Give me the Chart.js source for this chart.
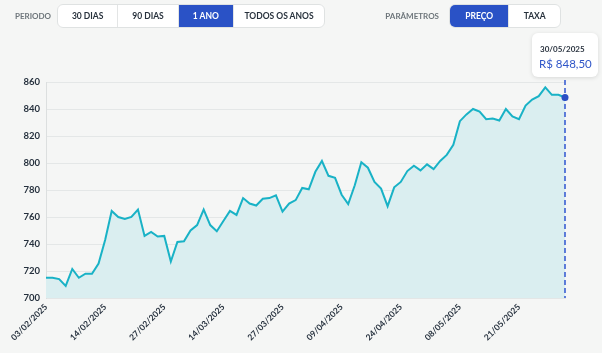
<!DOCTYPE html>
<html>
<head>
<meta charset="utf-8">
<script src="https://cdn.jsdelivr.net/npm/chart.js@4.4.1/dist/chart.umd.min.js"></script>
<style>
    html, body {
        margin: 0;
        padding: 0;
        background: #f5f6f5;
        width: 602px;
        height: 353px;
        overflow: hidden;
        font-family: "Lato", sans-serif;
    }
    #wrap {
        position: absolute;
        left: 0;
        top: 0;
        width: 602px;
        height: 353px;
    }
    .label {
        position: absolute;
        top: 11px;
        font-size: 8px;
        font-weight: 700;
        color: #6d757a;
    }
    .group {
        position: absolute;
        top: 4px;
        height: 22px;
        display: flex;
        background: #fff;
        border: 1px solid #dfe2e2;
        border-radius: 6px;
        overflow: hidden;
    }
    .group div {
        display: flex;
        align-items: center;
        justify-content: center;
        font-size: 8.5px;
        font-weight: 700;
        color: #27313c;
        border-right: 1px solid #e3e5e5;
    }
    .group div:last-child {
        border-right: none;
    }
    .group div.on {
        background: #2a52c6;
        color: #fff;
    }
    #tip {
        position: absolute;
        width: 66px;
        height: 44px;
        background: #fff;
        border-radius: 6px;
        box-shadow: 0 1px 4px rgba(0, 0, 0, 0.12);
    }
    #tip .d {
        position: absolute;
        left: 8px;
        top: 11px;
        font-size: 8px;
        font-weight: 700;
        color: #2b3440;
    }
    #tip .v {
        position: absolute;
        left: 7px;
        top: 24px;
        font-size: 11.5px;
        color: #2f55c8;
    }
</style>
</head>
<body>
<div id="wrap">
    <canvas id="price-chart" width="602" height="353"></canvas>
</div>
<div class="label" style="left:15px">PERIODO</div>
<div class="group" style="left:57px;width:266px">
    <div style="width:60px">30 DIAS</div>
    <div style="width:60px">90 DIAS</div>
    <div class="on" style="width:55px">1 ANO</div>
    <div style="width:91px">TODOS OS ANOS</div>
</div>
<div class="label" style="right:163px">PARÂMETROS</div>
<div class="group" style="left:449px;width:110px">
    <div class="on" style="width:59px">PREÇO</div>
    <div style="width:51px">TAXA</div>
</div>
<div id="tip">
    <div class="d">30/05/2025</div>
    <div class="v">R$ 848,50</div>
</div>
<script>
const dates = [
    "03/02/2025", "04/02/2025", "05/02/2025", "06/02/2025", "07/02/2025",
    "10/02/2025", "11/02/2025", "12/02/2025", "13/02/2025", "14/02/2025",
    "17/02/2025", "18/02/2025", "19/02/2025", "20/02/2025", "21/02/2025",
    "24/02/2025", "25/02/2025", "26/02/2025", "27/02/2025", "28/02/2025",
    "05/03/2025", "06/03/2025", "07/03/2025", "10/03/2025", "11/03/2025",
    "12/03/2025", "13/03/2025", "14/03/2025", "17/03/2025", "18/03/2025",
    "19/03/2025", "20/03/2025", "21/03/2025", "24/03/2025", "25/03/2025",
    "26/03/2025", "27/03/2025", "28/03/2025", "31/03/2025", "01/04/2025",
    "02/04/2025", "03/04/2025", "04/04/2025", "07/04/2025", "08/04/2025",
    "09/04/2025", "10/04/2025", "11/04/2025", "14/04/2025", "15/04/2025",
    "16/04/2025", "17/04/2025", "22/04/2025", "23/04/2025", "24/04/2025",
    "25/04/2025", "28/04/2025", "29/04/2025", "30/04/2025", "02/05/2025",
    "05/05/2025", "06/05/2025", "07/05/2025", "08/05/2025", "09/05/2025",
    "12/05/2025", "13/05/2025", "14/05/2025", "15/05/2025", "16/05/2025",
    "19/05/2025", "20/05/2025", "21/05/2025", "22/05/2025", "23/05/2025",
    "26/05/2025", "27/05/2025", "28/05/2025", "29/05/2025", "30/05/2025"
];

const prices = [
    715, 715, 714, 709, 721.5, 715, 718, 718, 725.5, 743,
    764.5, 760, 758.5, 760, 765.5, 746, 749, 745.5, 746, 727,
    741.5, 742, 750, 754, 765.5, 754, 749.5, 757, 764.5, 761.5,
    774, 770, 768.5, 773.5, 774, 776, 764, 770, 772.5, 781.5,
    780.5, 793.5, 801.5, 790.5, 789, 776.5, 769.5, 783.5, 800.5, 796.5,
    786, 781, 768, 782, 786, 794, 798, 794.5, 799, 795.5,
    801.5, 806, 813.5, 831, 836, 840, 838, 832.5, 833, 831.5,
    840, 834.5, 832.5, 842.5, 847, 849.5, 856, 850.5, 850.5, 848.5
];

const yTicks = [700, 720, 740, 760, 780, 800, 820, 840, 860];
const labelEvery = 9;

Chart.defaults.font.family = "Lato";

// dashed marker + dot on the last point
const markerPlugin = {
    id: "marker",
    afterDatasetsDraw(chart) {
        const ctx = chart.ctx;
        const last = prices.length - 1;
        const x = chart.scales.x.getPixelForValue(last);
        const y = chart.scales.y.getPixelForValue(prices[last]);
        ctx.save();
        ctx.strokeStyle = "#2f55d0";
        ctx.lineWidth = 1.5;
        ctx.setLineDash([5, 3]);
        ctx.beginPath();
        ctx.moveTo(x, 80);
        ctx.lineTo(x, chart.chartArea.bottom);
        ctx.stroke();
        ctx.setLineDash([]);
        ctx.fillStyle = "#2a4fc4";
        ctx.beginPath();
        ctx.arc(x, y, 3.5, 0, Math.PI * 2);
        ctx.fill();
        ctx.restore();

        const tip = document.getElementById("tip");
        tip.style.left = (x - 33) + "px";
        tip.style.top = "33px";
    },
};

const config = {
    type: "line",
    data: {
        labels: dates,
        datasets: [
            {
                data: prices,
                borderColor: "#19b2c6",
                backgroundColor: "#daeef0",
                borderWidth: 2,
                pointRadius: 0,
                tension: 0,
                fill: "start",
            },
        ],
    },
    plugins: [markerPlugin],
    options: {
        responsive: false,
        animation: false,
        layout: {
            padding: { top: 82, right: 37, left: 0, bottom: 0 },
        },
        plugins: {
            legend: { display: false },
            tooltip: { enabled: false },
        },
        scales: {
            x: {
                offset: false,
                grid: { display: false, drawTicks: false },
                border: { display: true, color: "#e3e6e6" },
                afterFit: function (scale) {
                    scale.height = 55;
                },
                ticks: {
                    autoSkip: false,
                    minRotation: 45,
                    maxRotation: 45,
                    padding: 4,
                    color: "#25303d",
                    font: { size: 8.5, weight: "bold" },
                    callback: function (value, index) {
                        return index % labelEvery === 0 ? dates[index] : "";
                    },
                },
            },
            y: {
                min: yTicks[0],
                max: yTicks[yTicks.length - 1],
                afterFit: function (scale) {
                    scale.width = 46;
                },
                afterBuildTicks: function (scale) {
                    scale.ticks = yTicks.map((v) => ({ value: v }));
                },
                grid: { color: "#e4e7e7", drawTicks: false },
                border: { color: "#dcdfdf" },
                ticks: {
                    padding: 6,
                    color: "#25303d",
                    font: { size: 9.5, weight: "bold" },
                },
            },
        },
    },
};

new Chart(document.getElementById("price-chart"), config);
</script>
</body>
</html>
